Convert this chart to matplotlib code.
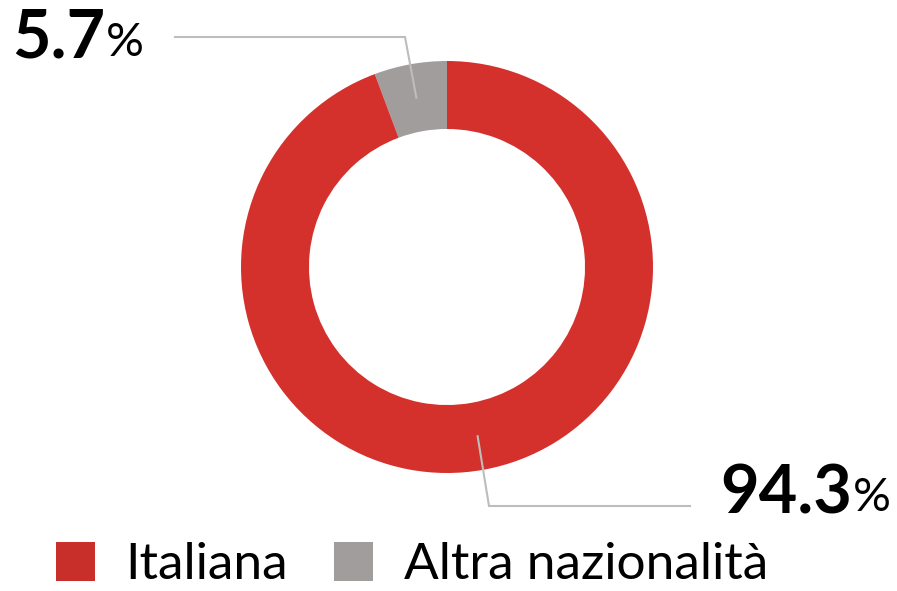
import numpy as np
import matplotlib.pyplot as plt
from matplotlib.patches import Patch

# data
categories = ['Altra nazionalità', 'Italiana']
values = [5.7, 94.3]
colors = ['#A19D9C', '#D4312D']
legend_colors = {'Italiana': '#C82E2A', 'Altra nazionalità': '#A19D9C'}
legend_order = ['Italiana', 'Altra nazionalità']

W, H = 897, 591
fig = plt.figure(figsize=(W / 100, H / 100), dpi=100)
ax = fig.add_axes([0, 0, 1, 1])
ax.axis('off')

cx, cy, R = 447, H - 267, 206
ring = R * 0.33
wedges, _ = ax.pie(values, colors=colors, startangle=90, counterclock=True,
                   center=(cx, cy), radius=R,
                   wedgeprops=dict(width=ring, linewidth=0))
ax.set_xlim(0, W)
ax.set_ylim(0, H)
ax.set_aspect('equal')

# leader lines + labels
line_col = '#BDBDBD'
rmid = R - ring / 2
elbows = [((405, H - 37), (175, H - 37)), ((489, H - 506), (690, H - 506))]
label_pos = [(12, H - 39, 'left'), (890, H - 494, 'right')]
for w, v, (e1, e2), (tx, ty, ha) in zip(wedges, values, elbows, label_pos):
    a = np.deg2rad((w.theta1 + w.theta2) / 2)
    p0 = (cx + rmid * np.cos(a), cy + rmid * np.sin(a))
    ax.plot([p0[0], e1[0], e2[0]], [p0[1], e1[1], e2[1]],
            color=line_col, lw=1.5, solid_joinstyle='miter')
    t = ax.text(tx, ty, f'{v:.1f}', fontsize=48, fontweight='bold',
                family='Lato', ha='left', va='center')
    pct = ax.text(0, 0, '%', fontsize=34, family='Lato', ha='left',
                  va='center')
    fig.canvas.draw()
    total = t.get_window_extent().width + pct.get_window_extent().width
    x0 = tx - total if ha == 'right' else tx
    t.set_position((x0, ty))
    fig.canvas.draw()
    bb = t.get_window_extent()
    pct.set_position((bb.x1 + 1, ty - 4))

handles = [Patch(facecolor=legend_colors[c], edgecolor='none')
           for c in legend_order]
leg = ax.legend(handles, legend_order, loc='lower left',
                bbox_to_anchor=(20 / W, -33 / H), ncol=2, frameon=False,
                prop=dict(family='Lato', size=37),
                handlelength=0.75, handleheight=0.8, handletextpad=0.6,
                columnspacing=0.9, borderpad=0.2)

fig.savefig('out.png', dpi=100)
